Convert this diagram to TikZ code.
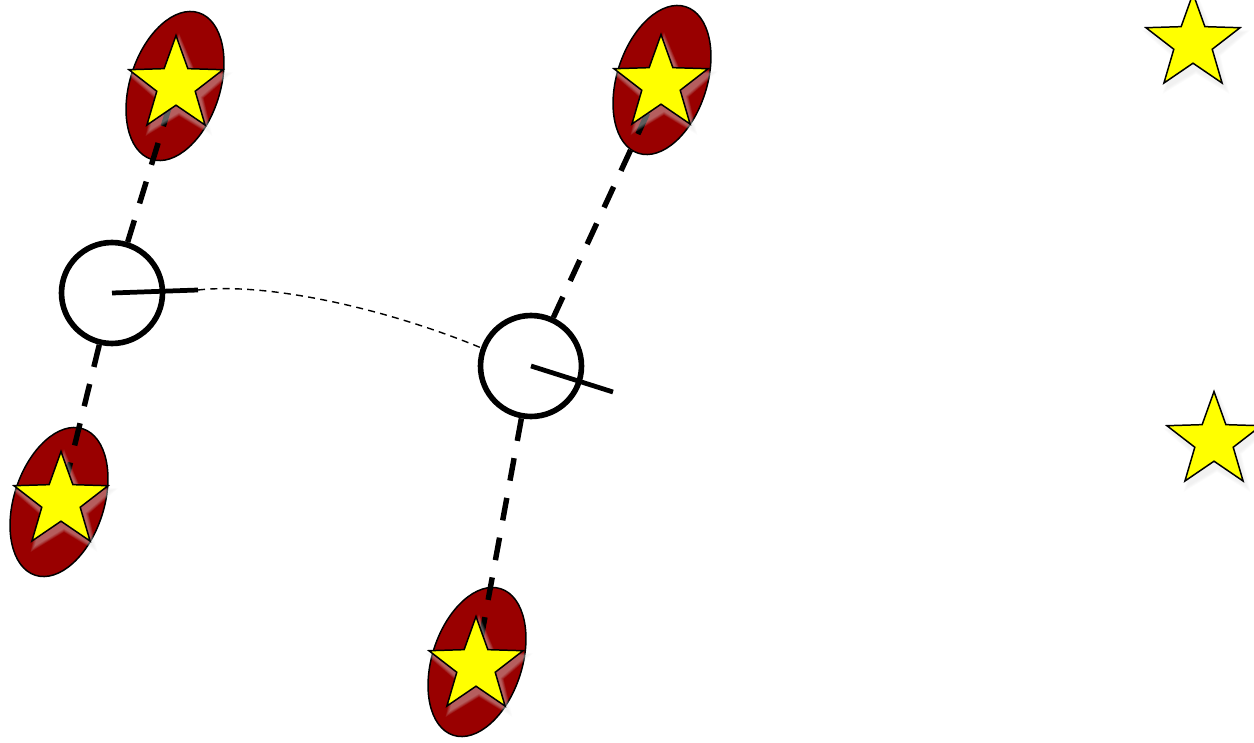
\documentclass[tikz,border=0pt]{standalone}
\usetikzlibrary{shapes.geometric}

\definecolor{berry}{HTML}{990000}
\definecolor{lemon}{HTML}{FFFF00}

\begin{document}
\begin{tikzpicture}[
    x=0.02cm,
    y=-0.02cm,
    pod/.style={
        ellipse,
        draw=black,
        line width=0.85pt,
        fill=berry,
        minimum width=1.8cm,
        minimum height=3.08cm,
        inner sep=0pt,
        rotate=-18
    },
    hub/.style={
        circle,
        draw=black,
        fill=white,
        line width=3.2pt,
        minimum size=2.02cm,
        inner sep=0pt
    },
    yellowstar/.style={
        star,
        star points=5,
        star point ratio=2.45,
        draw=black,
        line width=0.85pt,
        fill=lemon,
        minimum size=1.98cm,
        inner sep=0pt
    },
    glow/.style={
        star,
        star points=5,
        star point ratio=2.2,
        fill=gray!25,
        fill opacity=0.09,
        inner sep=0pt
    },
    stick/.style={line width=2.7pt},
    tether/.style={line width=3.1pt, dash pattern=on 13pt off 10pt},
    trail/.style={line width=0.8pt, dash pattern=on 4pt off 3pt}
]
\useasboundingbox (0,0) rectangle (1254,743);

% star positions
\coordinate (p1) at (176,85);
\coordinate (p2) at (661,84);
\coordinate (p3) at (61,501);
\coordinate (p4) at (476,666);
\coordinate (p5) at (1193,43);
\coordinate (p6) at (1214,441);

% ellipses behind the stars
\node[pod] (e1) at (175,86) {};
\node[pod] (e2) at (662,80) {};
\node[pod] (e3) at (59,502) {};
\node[pod] (e4) at (477,662) {};

% hubs
\node[hub] (c1) at (112,293) {};
\node[hub] (c2) at (531,366) {};

% dashed tethers
\draw[tether] (c1) -- (p1);
\draw[tether] (c1) -- (p3);
\draw[tether] (c2) -- (p2);
\draw[tether] (c2) -- (p4);

% sticks and the thin trail
\coordinate (h1) at (198,290);
\coordinate (h2) at (613,392);
\draw[stick] (c1.center) -- (h1);
\draw[stick] (c2.center) -- (h2);
\draw[trail] (h1) .. controls (270,282) and (390,310) .. (c2.160);

% stars with soft shadow
\foreach \p in {p1,p2,p3,p4,p5,p6}
    \foreach \g in {0.0,0.06,0.12,0.18,0.24,0.3}
        \node[glow, minimum size={1.98cm+\g cm}] at ([xshift=0.06cm,yshift=-0.1cm]\p) {};

\foreach \p/\n in {p1/s1,p2/s2,p3/s3,p4/s4,p5/s5,p6/s6}
    \node[yellowstar] (\n) at (\p) {};

\end{tikzpicture}
\end{document}
